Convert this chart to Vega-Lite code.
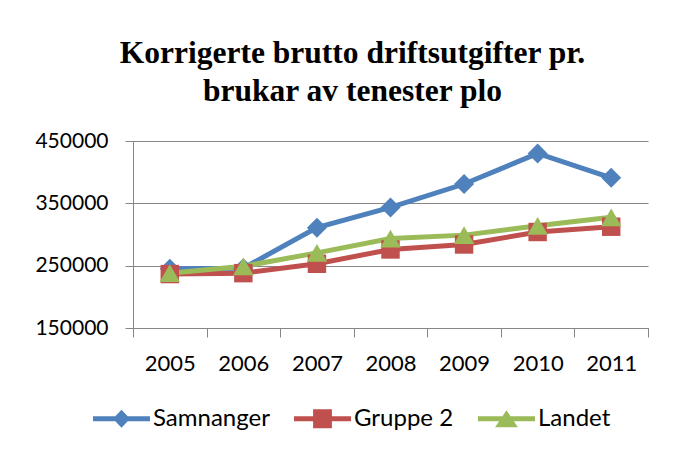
{
  "$schema": "https://vega.github.io/schema/vega-lite/v6.json",
  "width": 515,
  "height": 187,
  "autosize": "none",
  "padding": {"left": 133, "top": 141, "right": 36, "bottom": 127},
  "background": "white",
  "title": {
    "text": ["Korrigerte brutto driftsutgifter pr.", "brukar av tenester plo"],
    "font": "Liberation Serif",
    "fontSize": 31.5,
    "fontWeight": "bold",
    "lineHeight": 38,
    "color": "black",
    "anchor": "middle",
    "baseline": "alphabetic",
    "dx": -38,
    "offset": -2
  },
  "data": {
    "values": [
      {"year": "2005", "series": "Samnanger", "value": 245000},
      {"year": "2006", "series": "Samnanger", "value": 246000},
      {"year": "2007", "series": "Samnanger", "value": 311000},
      {"year": "2008", "series": "Samnanger", "value": 343500},
      {"year": "2009", "series": "Samnanger", "value": 381000},
      {"year": "2010", "series": "Samnanger", "value": 430000},
      {"year": "2011", "series": "Samnanger", "value": 391000},
      {"year": "2005", "series": "Gruppe 2", "value": 236500},
      {"year": "2006", "series": "Gruppe 2", "value": 238000},
      {"year": "2007", "series": "Gruppe 2", "value": 253000},
      {"year": "2008", "series": "Gruppe 2", "value": 276000},
      {"year": "2009", "series": "Gruppe 2", "value": 284000},
      {"year": "2010", "series": "Gruppe 2", "value": 304000},
      {"year": "2011", "series": "Gruppe 2", "value": 312500},
      {"year": "2005", "series": "Landet", "value": 238000},
      {"year": "2006", "series": "Landet", "value": 249000},
      {"year": "2007", "series": "Landet", "value": 270500},
      {"year": "2008", "series": "Landet", "value": 293500},
      {"year": "2009", "series": "Landet", "value": 299000},
      {"year": "2010", "series": "Landet", "value": 314000},
      {"year": "2011", "series": "Landet", "value": 327500}
    ]
  },
  "encoding": {
    "x": {
      "field": "year",
      "type": "ordinal",
      "bandPosition": 0.5,
      "scale": {"type": "band", "paddingInner": 0, "paddingOuter": 0},
      "axis": {
        "title": null,
        "labelAngle": 0,
        "labelFont": "Lato",
        "labelFontSize": 22,
        "labelColor": "black",
        "labelPadding": 16,
        "tickBand": "extent",
        "tickSize": 9,
        "tickColor": "#868686",
        "domainColor": "#868686",
        "grid": false
      }
    },
    "y": {
      "field": "value",
      "type": "quantitative",
      "scale": {"domain": [150000, 450000], "nice": false, "zero": false},
      "axis": {
        "title": null,
        "values": [150000, 250000, 350000, 450000],
        "format": "d",
        "labelFont": "Lato",
        "labelFontSize": 21,
        "labelColor": "black",
        "labelPadding": 17,
        "tickSize": 8,
        "tickColor": "#868686",
        "domainColor": "#868686",
        "gridColor": "#868686",
        "gridWidth": 1.2
      }
    },
    "color": {
      "field": "series",
      "type": "nominal",
      "scale": {
        "domain": ["Samnanger", "Gruppe 2", "Landet"],
        "range": ["#4F81BD", "#C0504D", "#9BBB59"]
      },
      "legend": {
        "title": null,
        "orient": "none",
        "direction": "horizontal",
        "legendX": -40,
        "legendY": 249,
        "labelFont": "Lato",
        "labelFontSize": 24,
        "labelColor": "black",
        "labelOffset": 3,
        "columnPadding": 24,
        "symbolSize": 3249,
        "encode": {
          "symbols": {
            "update": {
              "shape": {"signal": "datum.value === 'Samnanger' ? 'M-1,-0.088H1V0.088H-1Z M0,-0.32L0.3,0L0,0.32L-0.3,0Z' : datum.value === 'Gruppe 2' ? 'M-1,-0.088H1V0.088H-1Z M-0.33,-0.33H0.33V0.33H-0.33Z' : 'M-1,-0.088H1V0.088H-1Z M0,-0.3L0.4,0.3L-0.4,0.3Z'"},
              "fill": {"scale": "color", "field": "value"},
              "fillOpacity": {"value": 1},
              "strokeWidth": {"value": 0},
              "opacity": {"value": 1}
            }
          }
        }
      }
    }
  },
  "layer": [
    {
      "mark": {"type": "line", "strokeWidth": 5}
    },
    {
      "transform": [{"filter": "datum.series === 'Samnanger'"}],
      "mark": {"type": "point", "filled": true, "opacity": 1, "shape": "diamond", "size": 400}
    },
    {
      "transform": [{"filter": "datum.series === 'Gruppe 2'"}],
      "mark": {"type": "point", "filled": true, "opacity": 1, "shape": "square", "size": 340}
    },
    {
      "transform": [{"filter": "datum.series === 'Landet'"}],
      "mark": {"type": "point", "filled": true, "opacity": 1, "shape": "triangle-up", "size": 420}
    }
  ],
  "config": {
    "view": {"stroke": null}
  }
}
